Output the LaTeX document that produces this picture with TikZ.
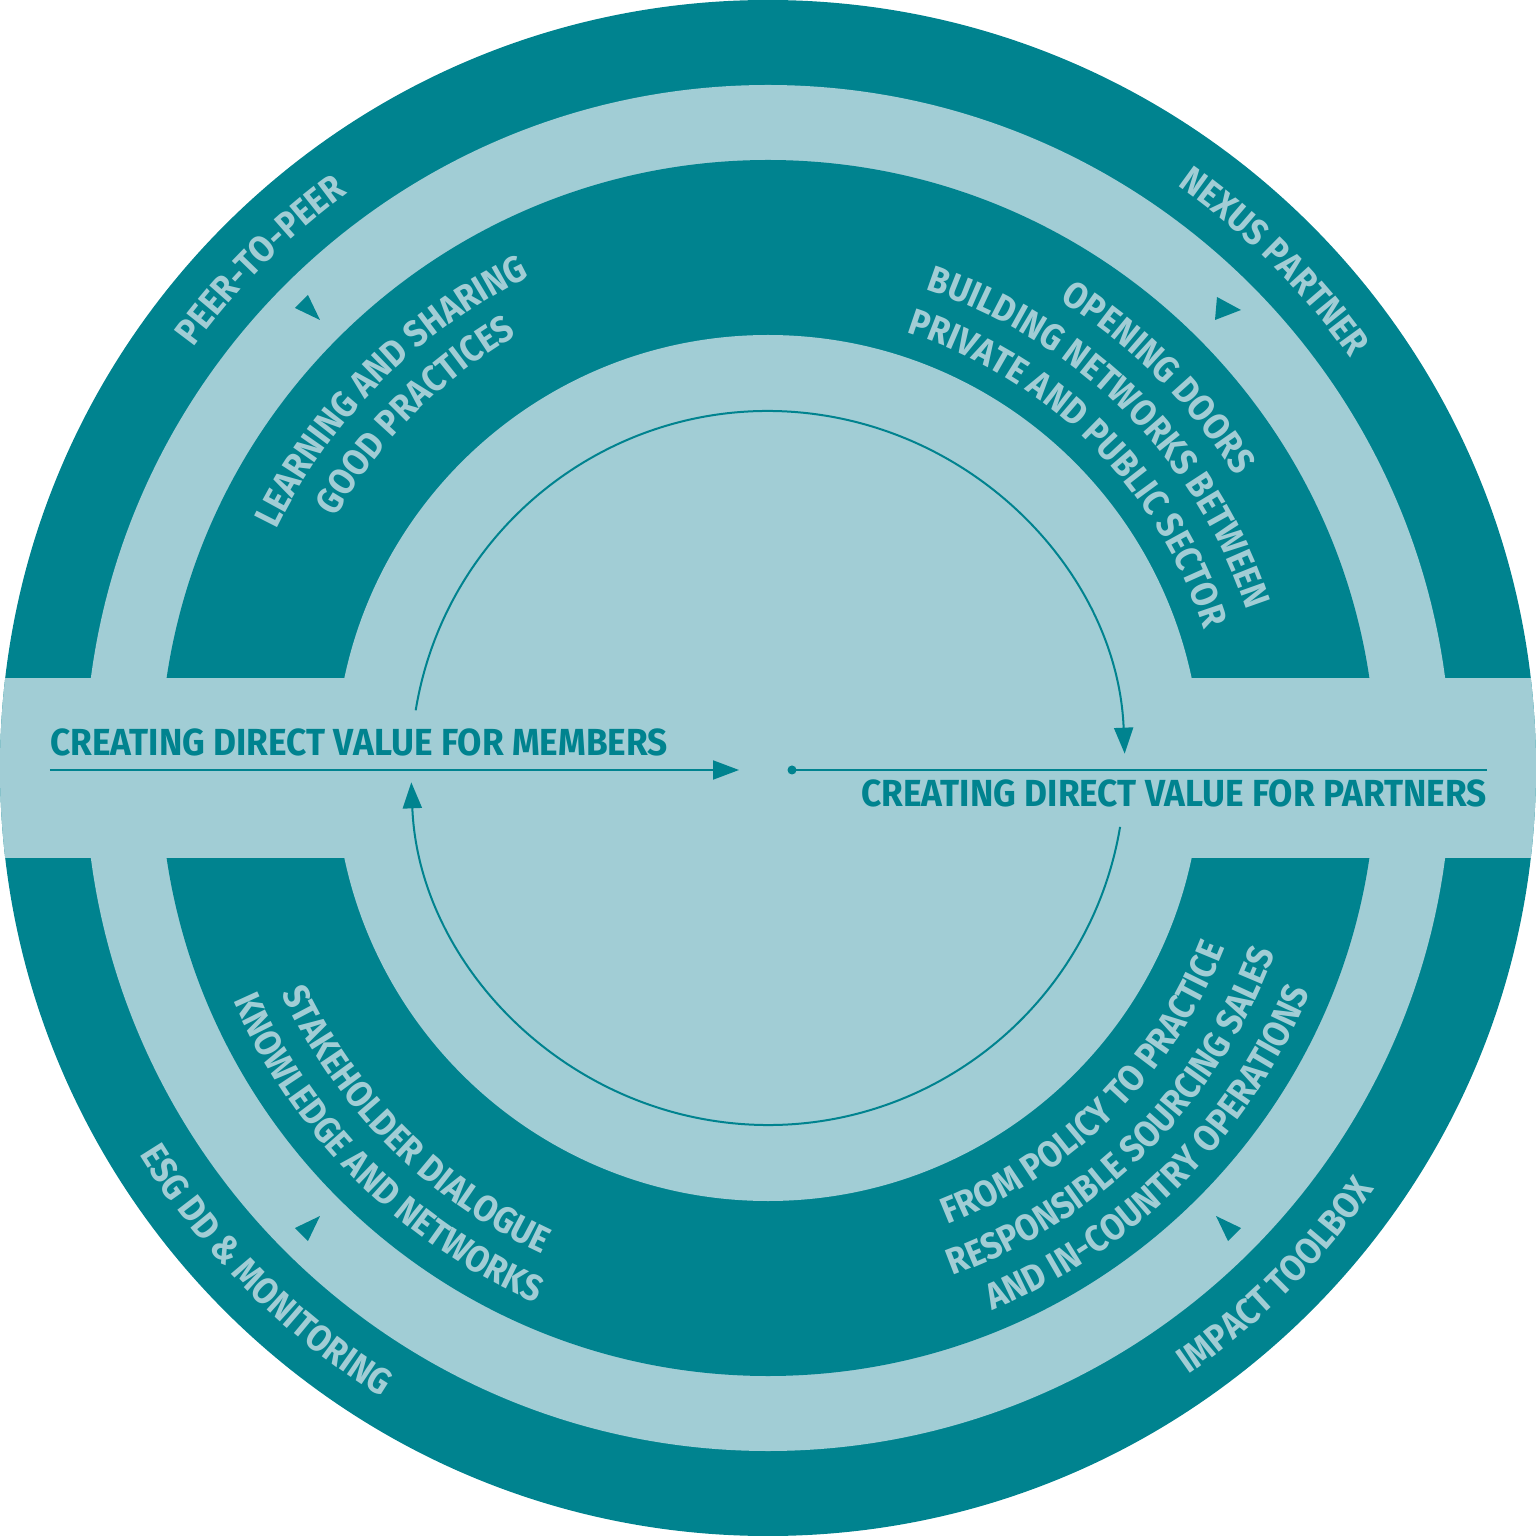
\documentclass[tikz,border=0pt]{standalone}
\usepackage{fontspec}
\usetikzlibrary{decorations.text,arrows.meta}
\newfontfamily\labfam[FakeStretch=0.9]{Fira Sans}
\newfontfamily\flatfam[FakeStretch=0.935]{Fira Sans}
\newcommand{\labfont}{\labfam\bfseries\fontsize{37}{44}\selectfont}
\newcommand{\flatfont}{\flatfam\bfseries\fontsize{37.7}{44}\selectfont}
\definecolor{tealdark}{HTML}{00838F}
\definecolor{teallite}{HTML}{A1CDD5}
\tikzset{
  ringtext/.style={decorate, decoration={text along path, text align=center, text color=teallite, text={|\labfont|#1}}},
  thinline/.style={draw=tealdark, line width=2pt},
  tiparrow/.style={-{Triangle[length=26pt,width=19pt]}},
  marker/.style={fill=tealdark},
  flatlabel/.style={text=tealdark, font=\flatfont, inner sep=0pt},
}
\begin{document}
\begin{tikzpicture}[x=1pt,y=1pt]
\useasboundingbox (-768,-768) rectangle (768,768);
\fill[white] (-768,-768) rectangle (768,768);
% rings
\fill[tealdark] (0,0) circle[radius=768];
\fill[teallite] (0,0) circle[radius=683];
\fill[tealdark] (0,0) circle[radius=608];
\fill[teallite] (0,0) circle[radius=433];
\begin{scope}
  \clip (0,0) circle[radius=768];
  \fill[teallite] (-770,-90) rectangle (770,90);
\end{scope}
% triangles in the light ring
\fill[marker] (-448,448) -- (-473,460) -- (-460,473) -- cycle;
\fill[marker] (473,458) -- (449,471) -- (447,448) -- cycle;
\fill[marker] (-448,-448) -- (-473,-460) -- (-460,-473) -- cycle;
\fill[marker] (448,-448) -- (473,-460) -- (460,-473) -- cycle;
% outer labels
\path[ringtext={PEER-TO-PEER}] (175:712) arc[start angle=175, end angle=95, radius=712];
\path[ringtext={NEXUS PARTNER}] (85:712) arc[start angle=85, end angle=5, radius=712];
\path[ringtext={ESG DD {\&} MONITORING}] (185:738) arc[start angle=185, end angle=265, radius=738];
\path[ringtext={IMPACT TOOLBOX}] (-85:738) arc[start angle=-85, end angle=-5, radius=738];
% middle ring labels
\path[ringtext={LEARNING AND SHARING}] (180:546) arc[start angle=180, end angle=90, radius=546];
\path[ringtext={GOOD PRACTICES}] (180:500) arc[start angle=180, end angle=90, radius=500];
\path[ringtext={OPENING DOORS}] (95:551) arc[start angle=95, end angle=-5, radius=551];
\path[ringtext={BUILDING NETWORKS BETWEEN}] (95:504) arc[start angle=95, end angle=-5, radius=504];
\path[ringtext={PRIVATE AND PUBLIC SECTOR}] (95:457) arc[start angle=95, end angle=-5, radius=457];
\path[ringtext={STAKEHOLDER DIALOGUE}] (175:536) arc[start angle=175, end angle=275, radius=536];
\path[ringtext={KNOWLEDGE AND NETWORKS}] (175:583) arc[start angle=175, end angle=275, radius=583];
\path[ringtext={FROM POLICY TO PRACTICE}] (-95:491) arc[start angle=-95, end angle=5, radius=491];
\path[ringtext={RESPONSIBLE SOURCING SALES}] (-95:540) arc[start angle=-95, end angle=5, radius=540];
\path[ringtext={AND IN-COUNTRY OPERATIONS}] (-95:587) arc[start angle=-95, end angle=5, radius=587];
% inner cycle arrows
\coordinate (arcTopStart) at (170.7:357);
\coordinate (arcBotStart) at (-9.5:357);
\draw[thinline, tiparrow] (arcTopStart) arc[start angle=170.7, end angle=2.3, radius=357];
\draw[thinline, tiparrow] (arcBotStart) arc[start angle=-9.5, end angle=-177.7, radius=357];
% horizontal labels and lines
\node[flatlabel, anchor=base west] (members) at (-718,12) {CREATING DIRECT VALUE FOR MEMBERS};
\node[flatlabel, anchor=base east] (partners) at (719,-39) {CREATING DIRECT VALUE FOR PARTNERS};
\coordinate (mStart) at (-718,-2);
\coordinate (mEnd) at (-29,-2);
\draw[thinline, tiparrow] (mStart) -- (mEnd);
\node[circle, fill=tealdark, inner sep=0pt, minimum size=9pt] (dot) at (24,-2) {};
\coordinate (pEnd) at (719,-2);
\draw[thinline] (dot.center) -- (pEnd);
\end{tikzpicture}
\end{document}
